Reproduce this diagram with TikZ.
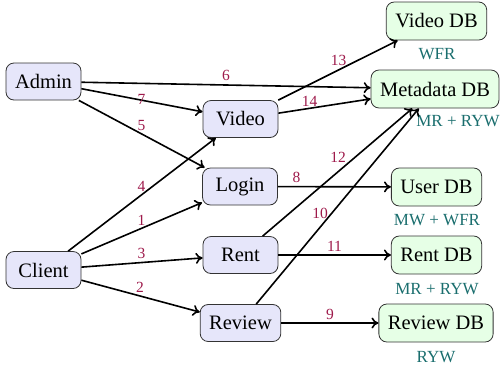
\documentclass[tikz,border=0pt]{standalone}
\usepackage{fontspec}
\setmainfont{Liberation Serif}
\usetikzlibrary{arrows.meta}
\definecolor{stepnum}{HTML}{9E1A4B}
\definecolor{guarantee}{HTML}{1A6E6E}
\definecolor{svcfill}{HTML}{E6E6FA}
\definecolor{dbfill}{HTML}{E6FFE6}
\definecolor{boxline}{HTML}{333333}
\tikzset{
  box/.style={draw=boxline, line width=0.8pt, rounded corners=8pt,
    inner xsep=9pt, minimum height=37pt,
    font=\fontsize{20.5}{24}\selectfont},
  svc/.style={box, fill=svcfill, minimum width=75pt},
  db/.style={box, fill=dbfill, minimum height=38pt},
  conn/.style={line width=1.6pt, -{To[length=7pt,width=11pt]}},
  num/.style={text=stepnum, inner sep=0pt, font=\fontsize{15.5}{18}\selectfont},
  cons/.style={text=guarantee, inner sep=0pt, font=\fontsize{17}{20}\selectfont}
}
\begin{document}
\begin{tikzpicture}[x=1pt,y=-1pt]
\useasboundingbox (0,0) rectangle (500,368);

% clients
\node[svc] (admin)  at (43.5,81.5) {Admin};
\node[svc] (client) at (43.5,270)  {Client};

% services
\node[svc] (video)  at (240.5,119) {Video};
\node[svc] (login)  at (240,186.5) {Login};
\node[svc] (rent)   at (240.5,255) {Rent};
\node[svc] (review) at (240.5,323) {Review};

% databases
\node[db] (videodb)  at (436.5,21)  {Video DB};
\node[db] (metadb)   at (435,89)    {Metadata DB};
\node[db] (userdb)   at (436.5,187) {User DB};
\node[db] (rentdb)   at (436.5,255) {Rent DB};
\node[db] (reviewdb) at (436,323)   {Review DB};

% consistency guarantees
\node[cons] (gvideo)  at (437,54)   {WFR};
\node[cons] (gmeta)   at (458,121)  {MR + RYW};
\node[cons] (guser)   at (437,220)  {MW + WFR};
\node[cons] (grent)   at (437,289)  {MR + RYW};
\node[cons] (greview) at (436,357)  {RYW};

% requests
\draw[conn] (client) -- (login);
\draw[conn] (client) -- (review);
\draw[conn] (client) -- (rent);
\draw[conn] (client) -- (video);
\draw[conn] (admin)  -- (login);
\draw[conn] (admin)  -- (metadb);
\draw[conn] (admin)  -- (video);
\draw[conn] (login)  -- (userdb);
\draw[conn] (review) -- (reviewdb);
\draw[conn] (review) -- (metadb);
\draw[conn] (rent)   -- (rentdb);
\draw[conn] (rent)   -- (metadb);
\draw[conn] (video)  -- (videodb);
\draw[conn] (video)  -- (metadb);

% step numbers
\node[num] (n1)  at (141.5,220)  {1};
\node[num] (n2)  at (140,287.5)  {2};
\node[num] (n3)  at (141.5,253.5){3};
\node[num] (n4)  at (141.5,186)  {4};
\node[num] (n5)  at (141.5,125.5){5};
\node[num] (n6)  at (226,75.5)   {6};
\node[num] (n7)  at (141.5,99)   {7};
\node[num] (n8)  at (296.5,177.5){8};
\node[num] (n9)  at (330,314)    {9};
\node[num] (n10) at (320,213.5)  {10};
\node[num] (n11) at (334.5,246.5){11};
\node[num] (n12) at (338,157.5)  {12};
\node[num] (n13) at (338.5,60)   {13};
\node[num] (n14) at (309.5,101.5){14};
\end{tikzpicture}
\end{document}
